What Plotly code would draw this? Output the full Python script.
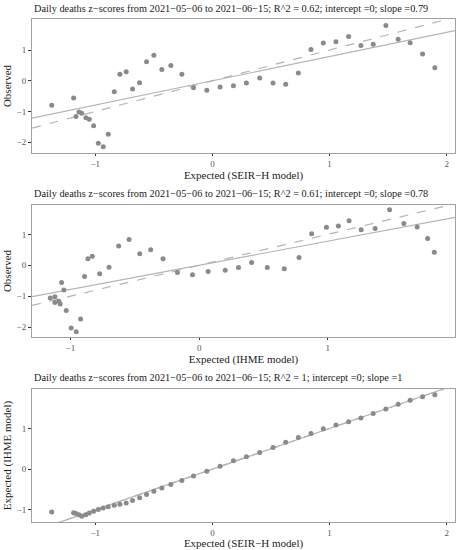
import plotly.graph_objects as go
from plotly.subplots import make_subplots

seirh = [-1.372, -1.185, -1.165, -1.139, -1.116, -1.080, -1.051, -1.014, -0.974, -0.932,
         -0.889, -0.838, -0.790, -0.736, -0.682, -0.622, -0.5625, -0.500, -0.432, -0.355,
         -0.261, -0.162, -0.048, 0.065, 0.179, 0.290, 0.403, 0.517, 0.625, 0.733,
         0.841, 0.946, 1.054, 1.162, 1.267, 1.372, 1.480, 1.585, 1.6875, 1.793, 1.898]
ihme = [-1.052, -1.070, -1.091, -1.122, -1.158, -1.122, -1.081, -1.034, -0.995, -0.956,
        -0.922, -0.891, -0.865, -0.831, -0.774, -0.701, -0.626, -0.545, -0.462, -0.377,
        -0.281, -0.169, -0.052, 0.070, 0.203, 0.306, 0.408, 0.530, 0.662, 0.777,
        0.875, 0.990, 1.083, 1.166, 1.260, 1.369, 1.481, 1.592, 1.696, 1.777, 1.829]
observed = [-0.80, -0.56, -1.16, -1.02, -1.06, -1.20, -1.25, -1.46, -2.03, -2.15,
            -1.74, -0.36, 0.21, 0.29, -0.27, -0.065, 0.62, 0.83, 0.37, 0.50,
            0.21, -0.23, -0.31, -0.20, -0.16, -0.07, 0.087, -0.07, -0.11, 0.255,
            1.02, 1.23, 1.27, 1.44, 1.15, 1.19, 1.80, 1.355, 1.235, 0.87, 0.42]

titles = ["Daily deaths z\u2212scores from 2021\u221205\u221206 to 2021\u221206\u221215; R^2 = 0.62; intercept =0; slope =0.79",
          "Daily deaths z\u2212scores from 2021\u221205\u221206 to 2021\u221206\u221215; R^2 = 0.61; intercept =0; slope =0.78",
          "Daily deaths z\u2212scores from 2021\u221205\u221206 to 2021\u221206\u221215; R^2 = 1; intercept =0; slope =1"]
slopes = [0.79, 0.78, 1.0]
xtitles = ["Expected (SEIR\u2212H model)", "Expected (IHME model)", "Expected (SEIR\u2212H model)"]
ytitles = ["Observed", "Observed", "Expected (IHME model)"]
xranges = [[-1.54, 2.07], [-1.30, 1.99], [-1.54, 2.07]]
yranges = [[-2.35, 2.01], [-2.32, 1.95], [-1.30, 1.97]]
xticks = [[-1, 0, 1, 2], [-1, 0, 1], [-1, 0, 1, 2]]
yticks = [[-2, -1, 0, 1], [-2, -1, 0, 1], [-1, 0, 1]]

panels = [(seirh, observed), (ihme, observed), (seirh, ihme)]

fig = make_subplots(rows=3, cols=1)
FONT = "Liberation Serif"
pt_color = "#8a8a8a"
ln_color = "#b4b4b4"

for i, (xs, ys) in enumerate(panels):
    r = i + 1
    x0, x1 = xranges[i]
    fig.add_trace(go.Scatter(x=[x0, x1], y=[x0, x1], mode="lines",
                             line=dict(color=ln_color, width=1.2, dash="dash"),
                             showlegend=False, hoverinfo="skip"), row=r, col=1)
    fig.add_trace(go.Scatter(x=[x0, x1], y=[slopes[i] * x0, slopes[i] * x1], mode="lines",
                             line=dict(color=ln_color, width=1.2),
                             showlegend=False, hoverinfo="skip"), row=r, col=1)
    fig.add_trace(go.Scatter(x=xs, y=ys, mode="markers",
                             marker=dict(color=pt_color, size=5),
                             showlegend=False), row=r, col=1)
    fig.update_xaxes(range=xranges[i], tickvals=xticks[i], row=r, col=1, automargin=False,
                     showgrid=False, zeroline=False, showline=True, mirror=True,
                     linecolor="#a0a0a0", linewidth=1, ticks="outside", ticklen=2,
                     tickcolor="#333", tickfont=dict(family=FONT, size=9, color="#555"),
                     title=dict(text=xtitles[i], font=dict(family=FONT, size=11, color="#222"),
                                standoff=0))
    fig.update_yaxes(range=yranges[i], tickvals=yticks[i], row=r, col=1, automargin=False,
                     showgrid=False, zeroline=False, showline=True, mirror=True,
                     linecolor="#a0a0a0", linewidth=1, ticks="outside", ticklen=3,
                     tickcolor="#333", tickfont=dict(family=FONT, size=9, color="#555"),
                     title=dict(text=ytitles[i], font=dict(family=FONT, size=11, color="#222"),
                                standoff=2))

H = 550
t, b = 19, 28
ph = H - t - b
doms = [(19, 153), (205, 337), (389, 522)]
axnames = ["yaxis", "yaxis2", "yaxis3"]
for name, (top, bot) in zip(axnames, doms):
    fig.layout[name].domain = [(H - b - bot) / ph, (H - b - top) / ph]
for name in ["xaxis", "xaxis2", "xaxis3"]:
    fig.layout[name].domain = [0, 1]

title_y = [9, 193, 377]
for i, ty in enumerate(title_y):
    fig.add_annotation(text=titles[i], xref="paper", yref="paper", x=0, xanchor="left",
                       y=(H - b - ty) / ph, yanchor="middle", showarrow=False,
                       font=dict(family=FONT, size=10.3, color="#222"))

fig.update_layout(width=463, height=550, margin=dict(l=32, r=8, t=t, b=b, autoexpand=False),
                  plot_bgcolor="white", paper_bgcolor="white",
                  font=dict(family=FONT))
fig.write_html("out.html", config={"displayModeBar": False},
               post_script="document.body.style.margin='0';document.body.style.overflow='hidden';")
